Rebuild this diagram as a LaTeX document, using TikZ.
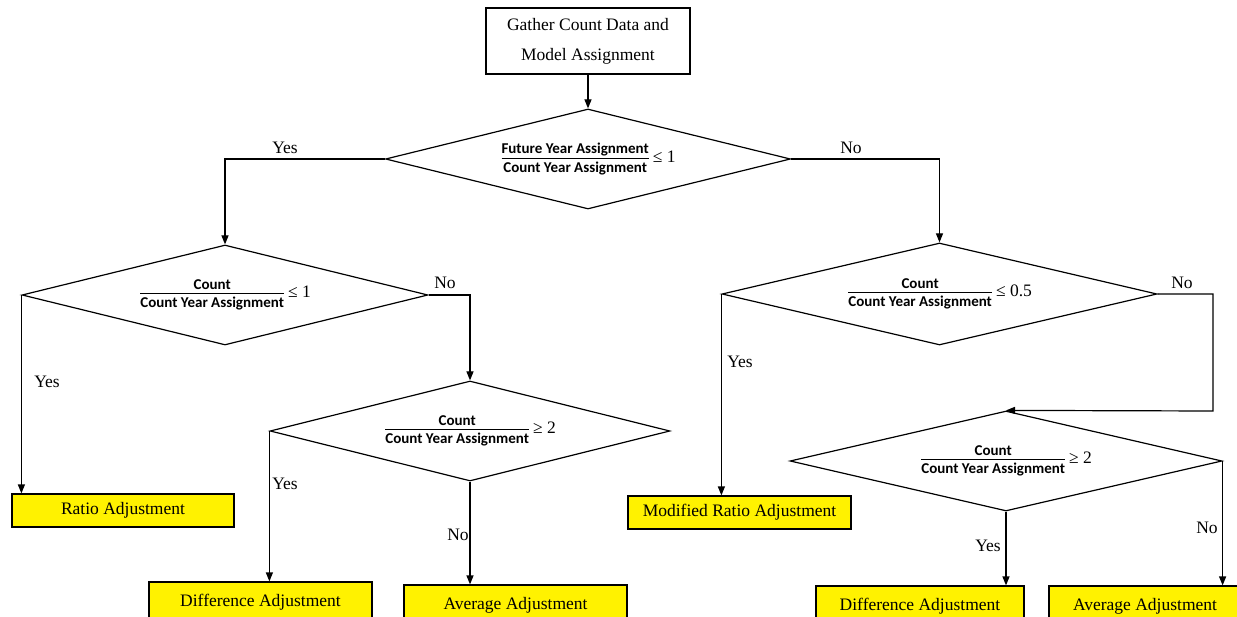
\documentclass[tikz,border=0pt]{standalone}
\usepackage{fontspec}
\setmainfont{Liberation Serif}
\newfontfamily\carl{Carlito}
\usetikzlibrary{shapes.geometric,arrows.meta}
\newcommand\frt[1]{\mbox{\fontsize{15}{16}\selectfont\carl\bfseries #1}}
\newcommand\fracn[2]{$\frac{\frt{#1}\rule[-3.5pt]{0pt}{3.5pt}}{\frt{#2}\rule{0pt}{14pt}}$}
\begin{document}
\begin{tikzpicture}[x=1pt,y=-1pt,
  every node/.style={font=\fontsize{17.5}{30}\selectfont},
  dec/.style={draw,shape=diamond,inner sep=0pt,line width=1.2pt},
  res/.style={draw,fill=yellow,line width=1.2pt,inner sep=0pt,minimum height=33pt},
  lbl/.style={inner sep=0pt},
  arr/.style={line width=1.2pt,-{Triangle[length=9pt,width=7pt]}}]
\useasboundingbox (0,0) rectangle (1237,617);
% start box
\node[draw,line width=1.2pt,minimum width=204pt,minimum height=66pt,inner sep=0pt,align=center] (start) at (588,41) {Gather Count Data and\\Model Assignment};
% decisions
\node[dec,aspect=4.05,minimum width=405pt,minimum height=100pt] (d1) at (588,159)
  {\fracn{Future Year Assignment}{Count Year Assignment}\,≤ 1};
\node[dec,aspect=4.06,minimum width=406pt,minimum height=100pt] (d2) at (225,295)
  {\fracn{Count}{Count Year Assignment}\,≤ 1};
\node[dec,aspect=4,minimum width=400pt,minimum height=100pt] (d4) at (470,431)
  {\fracn{Count}{Count Year Assignment}\,≥ 2};
\node[dec,aspect=4.26,minimum width=435pt,minimum height=102pt] (d3) at (939.5,294)
  {\fracn{Count}{Count Year Assignment}\,≤ 0.5};
\node[dec,aspect=4.32,minimum width=432pt,minimum height=100pt] (d5) at (1006,461)
  {\fracn{Count}{Count Year Assignment}\,≥ 2};
% results
\node[res,minimum width=222pt] (ratio) at (123,510.5) {Ratio Adjustment};
\node[res,minimum width=223pt,minimum height=40pt] (diff1) at (260.5,602) {Difference Adjustment};
\node[res,minimum width=223pt,minimum height=40pt] (avg1) at (515.5,605) {Average Adjustment};
\node[res,minimum width=223pt] (mod) at (739.5,512.5) {Modified Ratio Adjustment};
\node[res,minimum width=208pt,minimum height=40pt] (diff2) at (920,606) {Difference Adjustment};
\node[res,minimum width=192pt,minimum height=40pt] (avg2) at (1145,606) {Average Adjustment};
% connectors
\draw[arr] (start) -- (d1.north);
\draw[arr] (d1.west) -| (d2.north);
\draw[arr] (d1.east) -| (d3.north);
\draw[arr] (d2.west) -- (d2.west |- ratio.north);
\draw[arr] (d2.east) -| (d4.north);
\draw[arr] (d4.west) -- (d4.west |- diff1.north);
\draw[arr] (d4.south) -- (d4.south |- avg1.north);
\draw[arr] (d3.west) -- (d3.west |- mod.north);
\coordinate (k) at (1213,411);
\draw[arr] (d3.east) -| (k) -- (d5.north);
\draw[arr] (d5.south) -- (d5.south |- diff2.north);
\draw[arr] (d5.east) -- (d5.east |- avg2.north);
% labels
\node[lbl] (y1) at (285,148) {Yes};
\node[lbl] (n1) at (851,148) {No};
\node[lbl] (y2) at (47,382) {Yes};
\node[lbl] (n2) at (445,283) {No};
\node[lbl] (y4) at (285,484) {Yes};
\node[lbl] (n4) at (458,535) {No};
\node[lbl] (y3) at (740,362) {Yes};
\node[lbl] (n3) at (1182,283) {No};
\node[lbl] (y5) at (988,546) {Yes};
\node[lbl] (n5) at (1207,528) {No};
\end{tikzpicture}
\end{document}
